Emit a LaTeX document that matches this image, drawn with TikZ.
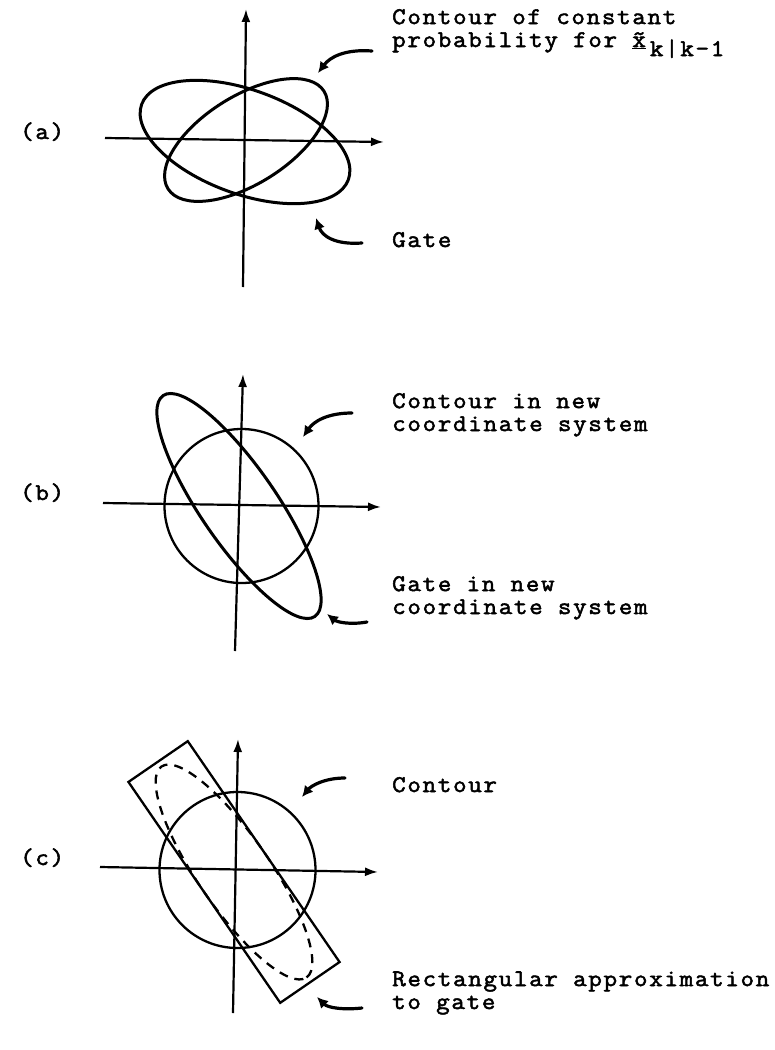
\documentclass[tikz,border=0pt]{standalone}
\usepackage{fontspec}
\setmonofont{Latin Modern Mono}[FakeStretch=1.1, FakeBold=2.2, LetterSpace=7]
\usetikzlibrary{arrows.meta,calc}
\begin{document}
\begin{tikzpicture}[x=1bp,y=-1bp,
  lbl/.style={font=\ttfamily\fontsize{24}{23}\selectfont, inner sep=0pt, anchor=base west, align=left},
  axis/.style={line width=2.2bp, -{Latex[length=13bp,width=9bp]}},
  curve/.style={line width=3bp},
  thincurve/.style={line width=2.3bp},
  pointer/.style={line width=3.2bp, line cap=round, -{Latex[length=11bp,width=11bp]}}
]
\useasboundingbox (0,0) rectangle (775,1050);

% ---------- panel (a)
\coordinate (aL) at (105,138);
\coordinate (aR) at (384,142);
\coordinate (aB) at (243,287);
\coordinate (aT) at (246,9);
\draw[axis] (aL) -- (aR);
\draw[axis] (aB) -- (aT);
\coordinate (ac1) at (245,142);
\coordinate (ac2) at (246,140);
\draw[curve, rotate around={-20:(ac1)}] (ac1) ellipse [x radius=110bp, y radius=52bp];
\draw[curve, rotate around={32:(ac2)}] (ac2) ellipse [x radius=92bp, y radius=44bp];
\node[lbl] (alab) at (20,139) {(a)};
\node[lbl] (acont) at (392,47) {Contour of constant\\probability for \underline{\~{x}}\,\raisebox{-9bp}{k|k-1}};
\node[lbl] (agate) at (392,247) {Gate};
\coordinate (aS1) at (372,51);
\coordinate (aT1) at (318,73);
\draw[pointer] (aS1) .. controls (345,49) and (330,57) .. (aT1);
\coordinate (aS2) at (362,243);
\coordinate (aT2) at (316,218);
\draw[pointer] (aS2) .. controls (335,245) and (322,236) .. (aT2);

% ---------- panel (b)
\coordinate (bL) at (103,503);
\coordinate (bR) at (381,507);
\coordinate (bB) at (235,651);
\coordinate (bT) at (243,374);
\draw[axis] (bL) -- (bR);
\draw[axis] (bB) -- (bT);
\coordinate (bc) at (241.5,506);
\draw[thincurve] (bc) circle [radius=77bp];
\coordinate (be) at (239,506);
\draw[curve, rotate around={-55.5:(be)}] (be) ellipse [x radius=134bp, y radius=38bp];
\node[lbl] (blab) at (20,500) {(b)};
\node[lbl] (bcont) at (392,431) {Contour in new\\coordinate system};
\node[lbl] (bgate) at (392,614) {Gate in new\\coordinate system};
\coordinate (bS1) at (352,413);
\coordinate (bT1) at (303,437);
\draw[pointer] (bS1) .. controls (328,413) and (314,421) .. (bT1);
\coordinate (bS2) at (367,622);
\coordinate (bT2) at (327,614);
\draw[pointer] (bS2) .. controls (350,625) and (337,622) .. (bT2);

% ---------- panel (c)
\coordinate (cL) at (100,867);
\coordinate (cR) at (378,872);
\coordinate (cB) at (233,1013);
\coordinate (cT) at (238,739);
\draw[axis] (cL) -- (cR);
\draw[axis] (cB) -- (cT);
\coordinate (cc) at (237.5,870);
\draw[thincurve] (cc) circle [radius=78bp];
\coordinate (cr) at (234,872);
\draw[thincurve, rotate around={-55.5:(cr)}] ($(cr)+(-134bp,-36bp)$) rectangle ($(cr)+(134bp,36bp)$);
\draw[thincurve, dash pattern=on 9bp off 7bp, rotate around={-55.5:(cr)}] (cr) ellipse [x radius=128bp, y radius=36bp];
\node[lbl] (clab) at (20,865) {(c)};
\node[lbl] (ccont) at (392,792) {Contour};
\node[lbl] (crect) at (392,1009) {Rectangular approximation\\to gate};
\coordinate (cS1) at (345,778);
\coordinate (cT1) at (302,797);
\draw[pointer] (cS1) .. controls (324,778) and (311,786) .. (cT1);
\coordinate (cS2) at (362,1008);
\coordinate (cT2) at (317,997);
\draw[pointer] (cS2) .. controls (344,1010) and (328,1008) .. (cT2);
\end{tikzpicture}
\end{document}
